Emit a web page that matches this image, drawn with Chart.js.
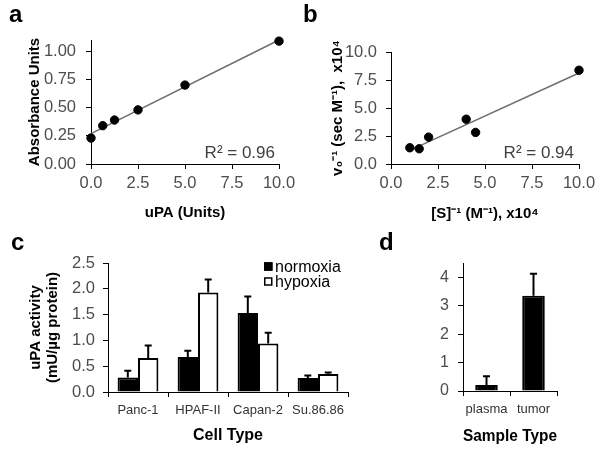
<!DOCTYPE html>
<html><head><meta charset="utf-8">
<script src="https://cdn.jsdelivr.net/npm/chart.js@4"></script>
<style>
html,body{margin:0;padding:0;background:#fff;}
#wrap{position:relative;width:601px;height:456px;overflow:hidden;font-family:"Liberation Sans",Arial,sans-serif;}
canvas{position:absolute;}
.lbl{position:absolute;font-weight:bold;font-size:24px;color:#000;line-height:1;}
</style></head><body>
<div id="wrap">
<canvas id="ca" style="left:0;top:0" width="300" height="225"></canvas>
<canvas id="cb" style="left:300px;top:0" width="301" height="225"></canvas>
<canvas id="cc" style="left:0;top:225px" width="400" height="231"></canvas>
<canvas id="cd" style="left:400px;top:225px" width="201" height="231"></canvas>
<div class="lbl" style="left:9px;top:2px">a</div>
<div class="lbl" style="left:303px;top:2px">b</div>
<div class="lbl" style="left:11px;top:230px">c</div>
<div class="lbl" style="left:379px;top:230px">d</div>
</div>
<script>
// ---- data ----
const aX = [0, 0.625, 1.25, 2.5, 5, 10];
const aY = [0.23, 0.34, 0.39, 0.48, 0.70, 1.09];
const aFitX = [0, 10];
const aFitY = [0.27, 1.10];
const aXTicks = [0, 2.5, 5, 7.5, 10];
const aYTicks = [0, 0.25, 0.5, 0.75, 1.0];
const aNote = 'R\u00B2 = 0.96';

const bX = [1.0, 1.5, 2.0, 4.0, 4.5, 10.0];
const bY = [1.45, 1.36, 2.4, 4.0, 2.82, 8.37];
const bFitX = [1.0, 10.0];
const bFitY = [1.22, 8.13];
const bXTicks = [0, 2.5, 5, 7.5, 10];
const bYTicks = [0, 2.5, 5, 7.5, 10];
const bNote = 'R\u00B2 = 0.94';

const cCategories = ['Panc-1', 'HPAF-II', 'Capan-2', 'Su.86.86'];
const cNormoxia = [0.28, 0.68, 1.53, 0.27];
const cNormoxiaErr = [0.13, 0.12, 0.32, 0.05];
const cHypoxia = [0.66, 1.93, 0.94, 0.35];
const cHypoxiaErr = [0.24, 0.25, 0.21, 0.03];
const cYTicks = [0, 0.5, 1.0, 1.5, 2.0, 2.5];

const dCategories = ['plasma', 'tumor'];
const dValues = [0.21, 3.35];
const dErr = [0.31, 0.77];
const dYTicks = [0, 1, 2, 3, 4];

// ---- helpers ----
const FONT = '"Liberation Sans", Arial, sans-serif';
const TICK_COLOR = '#4d4d4d';

function fixY(w) { return s => { s.width = w; s.paddingTop = 0; s.paddingBottom = 0; s.paddingLeft = 0; s.paddingRight = 0; }; }
function fixX(h) { return s => { s.height = h; s.paddingTop = 0; s.paddingBottom = 0; s.paddingLeft = 0; s.paddingRight = 0; }; }
function setTicks(list) { return s => { s.ticks = list.map(v => ({ value: v })); }; }

function axis(extra) {
  const base = {
    border: { display: true, color: '#000', width: 1 },
    grid: { display: true, drawOnChartArea: false, drawTicks: true, tickLength: 5, color: '#000', tickColor: '#000', lineWidth: 1 }
  };
  return Object.assign(base, extra);
}

const notePlugin = {
  id: 'note',
  afterDraw(chart, args, opts) {
    if (!opts || !opts.text) return;
    const ctx = chart.ctx;
    ctx.save();
    ctx.font = (opts.size || 17) + 'px ' + FONT;
    ctx.fillStyle = opts.color || '#404040';
    ctx.textAlign = 'right';
    ctx.textBaseline = 'middle';
    ctx.fillText(opts.text, chart.chartArea.right + (opts.dx || 0), opts.y);
    ctx.restore();
  }
};

const errPlugin = {
  id: 'errbars',
  afterDatasetsDraw(chart) {
    const ctx = chart.ctx;
    const ys = chart.scales.y;
    chart.data.datasets.forEach((ds, i) => {
      if (!ds.errors) return;
      const meta = chart.getDatasetMeta(i);
      meta.data.forEach((bar, j) => {
        const top = ys.getPixelForValue(ds.data[j] + ds.errors[j]);
        ctx.save();
        ctx.strokeStyle = '#000';
        ctx.lineWidth = 2;
        ctx.beginPath();
        ctx.moveTo(bar.x, bar.y);
        ctx.lineTo(bar.x, top);
        ctx.moveTo(bar.x - 3.5, top);
        ctx.lineTo(bar.x + 3.5, top);
        ctx.stroke();
        ctx.restore();
      });
    });
  }
};

const legendPlugin = {
  id: 'boxlegend',
  afterDraw(chart, args, opts) {
    if (!opts || !opts.show) return;
    const ctx = chart.ctx;
    ctx.save();
    ctx.font = '16px ' + FONT;
    ctx.textBaseline = 'middle';
    ctx.textAlign = 'left';
    chart.data.datasets.forEach((ds, i) => {
      const y = opts.y + i * opts.gap;
      const sq = 8.5;
      const sy = y - 1 - sq / 2;
      ctx.fillStyle = ds.backgroundColor;
      ctx.fillRect(opts.x, sy, sq, sq);
      ctx.strokeStyle = '#000';
      ctx.lineWidth = 1.5;
      ctx.strokeRect(opts.x + 0.75, sy + 0.75, sq - 1.5, sq - 1.5);
      ctx.fillStyle = '#000';
      ctx.fillText(ds.label, opts.x + 11, y);
    });
    ctx.restore();
  }
};

Chart.register(notePlugin, errPlugin, legendPlugin);

function pts(xs, ys) { return xs.map((x, i) => ({ x: x, y: ys[i] })); }

// ---- panel a ----
new Chart(document.getElementById('ca'), {
  type: 'scatter',
  data: {
    datasets: [
      { data: pts(aX, aY), backgroundColor: '#000', borderColor: '#000', pointRadius: 4.2, pointHoverRadius: 4.2, clip: false, order: 1 },
      { data: pts(aFitX, aFitY), showLine: true, borderColor: '#6e6e6e', borderWidth: 1.5, pointRadius: 0, clip: false, order: 2 }
    ]
  },
  options: {
    responsive: false, animation: false,
    layout: { padding: { left: 0, top: 40, right: 21, bottom: 0 } },
    plugins: { legend: { display: false }, tooltip: { enabled: false }, note: { text: aNote, y: 153, dx: -4 } },
    scales: {
      x: axis({ type: 'linear', min: 0, max: 10, afterFit: fixX(61), afterBuildTicks: setTicks(aXTicks),
        ticks: { color: TICK_COLOR, font: { family: FONT, size: 16.5 }, padding: 5, callback: v => v.toFixed(1) },
        title: { display: true, text: 'uPA (Units)', color: '#000', font: { family: FONT, size: 15, weight: 'bold', lineHeight: 1.2 }, padding: { top: 0, bottom: 3 } } }),
      y: axis({ type: 'linear', min: 0, max: 1.1, afterFit: fixY(91), afterBuildTicks: setTicks(aYTicks),
        ticks: { color: TICK_COLOR, font: { family: FONT, size: 16.5 }, padding: 10, callback: v => v.toFixed(2) },
        title: { display: true, text: 'Absorbance Units', color: '#000', font: { family: FONT, size: 15, weight: 'bold', lineHeight: 1.2 }, padding: { top: 26, bottom: 0 } } })
    }
  }
});

// ---- panel b ----
new Chart(document.getElementById('cb'), {
  type: 'scatter',
  data: {
    datasets: [
      { data: pts(bX, bY), backgroundColor: '#000', borderColor: '#000', pointRadius: 4.2, pointHoverRadius: 4.2, clip: false, order: 1 },
      { data: pts(bFitX, bFitY), showLine: true, borderColor: '#6e6e6e', borderWidth: 1.5, pointRadius: 0, clip: false, order: 2 }
    ]
  },
  options: {
    responsive: false, animation: false,
    layout: { padding: { left: 0, top: 52, right: 22, bottom: 0 } },
    plugins: { legend: { display: false }, tooltip: { enabled: false }, note: { text: bNote, y: 153, dx: -5 } },
    scales: {
      x: axis({ type: 'linear', min: 0, max: 10, afterFit: fixX(61), afterBuildTicks: setTicks(bXTicks),
        ticks: { color: TICK_COLOR, font: { family: FONT, size: 16.5 }, padding: 5, callback: v => v.toFixed(1) },
        title: { display: true, text: '[S]\u207B\u00B9 (M\u207B\u00B9), x10\u2074', color: '#000', font: { family: FONT, size: 15, weight: 'bold', lineHeight: 1.2 }, padding: { top: 0, bottom: 2 } } }),
      y: axis({ type: 'linear', min: 0, max: 10, afterFit: fixY(91), afterBuildTicks: setTicks(bYTicks),
        ticks: { color: TICK_COLOR, font: { family: FONT, size: 16.5 }, padding: 9, callback: v => v.toFixed(1) },
        title: { display: true, text: 'v\u2080\u207B\u00B9 (sec M\u207B\u00B9),  x10\u2074', color: '#000', font: { family: FONT, size: 15, weight: 'bold', lineHeight: 1.2 }, padding: { top: 29, bottom: 0 } } })
    }
  }
});

// ---- panel c ----
new Chart(document.getElementById('cc'), {
  type: 'bar',
  data: {
    labels: cCategories,
    datasets: [
      { label: 'normoxia', data: cNormoxia, errors: cNormoxiaErr, backgroundColor: '#000', borderColor: '#000', borderWidth: 2, categoryPercentage: 0.68, barPercentage: 1 },
      { label: 'hypoxia', data: cHypoxia, errors: cHypoxiaErr, backgroundColor: '#fff', borderColor: '#000', borderWidth: 2, categoryPercentage: 0.68, barPercentage: 1 }
    ]
  },
  options: {
    responsive: false, animation: false,
    layout: { padding: { left: 0, top: 38, right: 52, bottom: 0 } },
    plugins: { legend: { display: false }, tooltip: { enabled: false }, boxlegend: { show: true, x: 264, y: 42.5, gap: 15 } },
    scales: {
      x: axis({ type: 'category', offset: true, afterFit: fixX(64),
        grid: { display: true, offset: true, drawOnChartArea: false, drawTicks: true, tickLength: 5, color: '#000', tickColor: '#000', lineWidth: 1 },
        ticks: { color: '#333', font: { family: FONT, size: 13 }, padding: 6, maxRotation: 0, autoSkip: false },
        title: { display: true, text: 'Cell Type', color: '#000', font: { family: FONT, size: 16, weight: 'bold', lineHeight: 1.2 }, padding: { top: 0, bottom: 11 } } }),
      y: axis({ type: 'linear', min: 0, max: 2.5, afterFit: fixY(108), afterBuildTicks: setTicks(cYTicks),
        ticks: { color: TICK_COLOR, font: { family: FONT, size: 16.5 }, padding: 8, callback: v => v.toFixed(1) },
        title: { display: true, text: ['uPA activity', '(mU/\u00B5g protein)'], color: '#000', font: { family: FONT, size: 15, weight: 'bold', lineHeight: '17px' }, padding: { top: 27.5, bottom: 0 } } })
    }
  }
});

// ---- panel d ----
new Chart(document.getElementById('cd'), {
  type: 'bar',
  data: {
    labels: dCategories,
    datasets: [
      { label: 'activity', data: dValues, errors: dErr, backgroundColor: '#000', borderColor: '#000', borderWidth: 2, categoryPercentage: 1, barPercentage: 0.48 }
    ]
  },
  options: {
    responsive: false, animation: false,
    layout: { padding: { left: 0, top: 38, right: 44, bottom: 0 } },
    plugins: { legend: { display: false }, tooltip: { enabled: false } },
    scales: {
      x: axis({ type: 'category', offset: true, afterFit: fixX(65),
        grid: { display: true, offset: true, drawOnChartArea: false, drawTicks: true, tickLength: 5, color: '#000', tickColor: '#000', lineWidth: 1 },
        ticks: { color: '#333', font: { family: FONT, size: 13 }, padding: 6, maxRotation: 0, autoSkip: false },
        title: { display: true, text: 'Sample Type', color: '#000', font: { family: FONT, size: 16, weight: 'bold', lineHeight: 1.2 }, padding: { top: 0, bottom: 10 } } }),
      y: axis({ type: 'linear', min: 0, max: 4.5, afterFit: fixY(63), afterBuildTicks: setTicks(dYTicks),
        ticks: { color: TICK_COLOR, font: { family: FONT, size: 16 }, padding: 9 } })
    }
  }
});
</script>
</body></html>
